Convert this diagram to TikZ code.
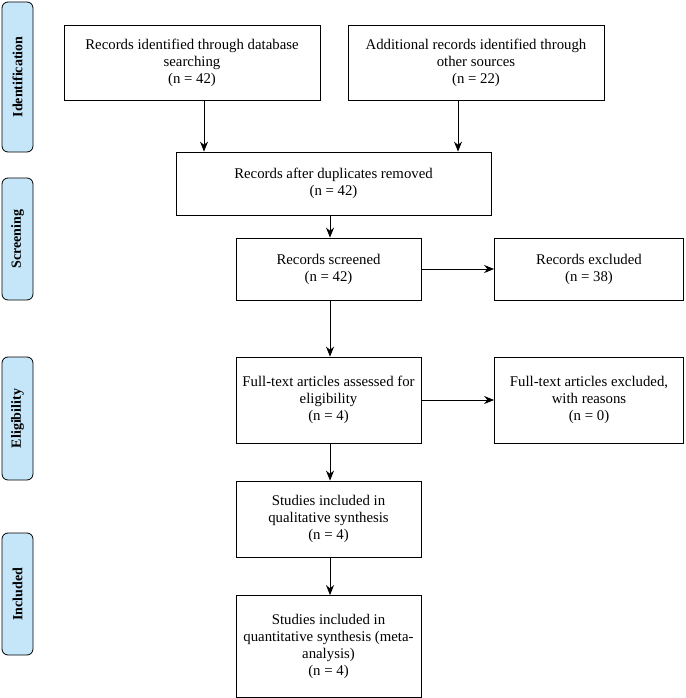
\documentclass[tikz,border=0pt]{standalone}
\usepackage{fontspec}
\setmainfont{Liberation Serif}
\usetikzlibrary{arrows, arrows.meta, positioning, calc}
\definecolor{phaseblue}{HTML}{C5E5F8}

\begin{document}
\begin{tikzpicture}[x=1pt, y=-1pt, -{Stealth[length=10pt, width=8pt]}, thick,
		box/.style={draw, thick, align=center, font=\fontsize{14.8}{17}\selectfont, inner sep=2pt},
		phase/.style={draw, thick, fill=phaseblue, rounded corners=6pt, minimum height=31pt, rotate=90, font=\bfseries\fontsize{14}{16}\selectfont}]
				\useasboundingbox (0,0) rectangle (685,698);

				\node[phase, minimum width=150pt] (Ident) at (17.5,77) {Identification};
				\node[phase, minimum width=122pt] (Screen) at (17.5,239) {Screening};
				\node[phase, minimum width=123pt] (Elig) at (17.5,418.5) {Eligibility};
				\node[phase, minimum width=122pt] (Incl) at (17.5,594) {Included};

				\node[box, minimum width=256pt, minimum height=75pt] (Database) at (192,62.5)
					{Records identified through database \\ searching \\ (n = 42)};
				\node[box, minimum width=256pt, minimum height=75pt] (Other) at (476,62.5)
					{Additional records identified through \\ other sources \\ (n = 22)};
				\node[box, minimum width=315pt, minimum height=63pt] (Dupl) at (333.5,183.5)
					{Records after duplicates removed \\ (n = 42)};
				\node[box, minimum width=185pt, minimum height=62pt] (Screened) at (328.5,269)
					{Records screened \\ (n = 42)};
				\node[box, minimum width=189pt, minimum height=62pt] (Excl) at (589,269)
					{Records excluded \\ (n = 38)};
				\node[box, minimum width=185pt, minimum height=86pt] (FullText) at (328.5,400)
					{Full-text articles assessed for \\ eligibility \\ (n = 4)};
				\node[box, minimum width=189pt, minimum height=86pt] (FullExcl) at (589,400)
					{Full-text articles excluded, \\ with reasons \\ (n = 0)};
				\node[box, minimum width=185pt, minimum height=76pt] (Qual) at (328.5,519)
					{Studies included in \\ qualitative synthesis \\ (n = 4)};
				\node[box, minimum width=185pt, minimum height=102pt] (Quant) at (328.5,646.5)
					{Studies included in \\ quantitative synthesis (meta- \\ analysis) \\ (n = 4)};

				\draw (Database.south -| 204,0) -- (Dupl.north -| 204,0);
				\draw (Other.south -| 458,0) -- (Dupl.north -| 458,0);
				\draw (Dupl.south -| 330,0) -- (Screened.north -| 330,0);
				\draw (Screened) -- (Excl);
				\draw (Screened.south -| 330,0) -- (FullText.north -| 330,0);
				\draw (FullText) -- (FullExcl);
				\draw (FullText.south -| 330,0) -- (Qual.north -| 330,0);
				\draw (Qual.south -| 330,0) -- (Quant.north -| 330,0);

			\end{tikzpicture}
\end{document}
